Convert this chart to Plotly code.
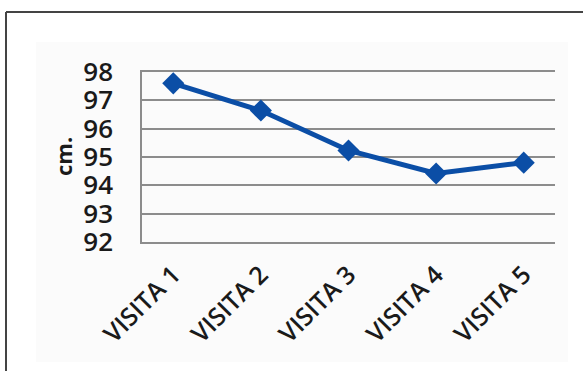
import plotly.graph_objects as go

categories = ["VISITA 1", "VISITA 2", "VISITA 3", "VISITA 4", "VISITA 5"]
values = [97.6, 96.64, 95.23, 94.42, 94.8]
y_ticks = [92, 93, 94, 95, 96, 97, 98]
y_title = "cm."

W, H = 583, 371
L, R, T, B = 142, 28, 72, 129
pw, ph = W - L - R, H - T - B

def px_x(x):
    return (x - L) / pw

def px_y(y):
    return (H - B - y) / ph

fig = go.Figure()
fig.add_trace(go.Scatter(
    x=categories, y=values, mode="lines+markers",
    line=dict(color="#0b4ea6", width=5),
    marker=dict(symbol="diamond", size=17, color="#0b4ea6"),
    showlegend=False, cliponaxis=False,
))

fig.update_layout(
    width=W, height=H,
    margin=dict(l=L, r=R, t=T, b=B),
    paper_bgcolor="white",
    plot_bgcolor="rgba(0,0,0,0)",
    font=dict(family="Open Sans", color="#1a1a1a"),
    shapes=[
        dict(type="rect", xref="paper", yref="paper",
             x0=px_x(36), x1=px_x(568), y0=px_y(362), y1=px_y(42),
             fillcolor="#fbfbfb", line=dict(width=0), layer="below"),
        dict(type="line", xref="paper", yref="paper",
             x0=px_x(6), x1=px_x(W + 5), y0=px_y(12), y1=px_y(12),
             line=dict(color="#444444", width=2)),
        dict(type="line", xref="paper", yref="paper",
             x0=px_x(6), x1=px_x(6), y0=px_y(12), y1=px_y(H + 5),
             line=dict(color="#444444", width=2)),
    ],
    annotations=[
        dict(text=y_title, xref="paper", yref="paper",
             x=px_x(63), y=px_y(157), textangle=-90, showarrow=False,
             font=dict(family="Open Sans", size=22, weight="bold", color="#1a1a1a"),
             xanchor="center", yanchor="middle"),
    ],
)

fig.update_xaxes(
    type="category", tickangle=-45, showgrid=False,
    showline=True, mirror=True, linecolor="#8c8c8c", linewidth=2,
    ticks="",
    tickfont=dict(family="Open Sans", size=25, weight=600, color="#1a1a1a"),
    ticklabelstandoff=6,
)
fig.update_yaxes(
    range=[92, 98], tickvals=y_ticks, showgrid=True,
    gridcolor="#8c8c8c", gridwidth=2,
    showline=True, linecolor="#8c8c8c", linewidth=1.5,
    zeroline=False, ticks="",
    tickfont=dict(family="Open Sans", size=26, weight=600, color="#1a1a1a"),
    ticklabelstandoff=22,
)

fig.write_html("out.html")
